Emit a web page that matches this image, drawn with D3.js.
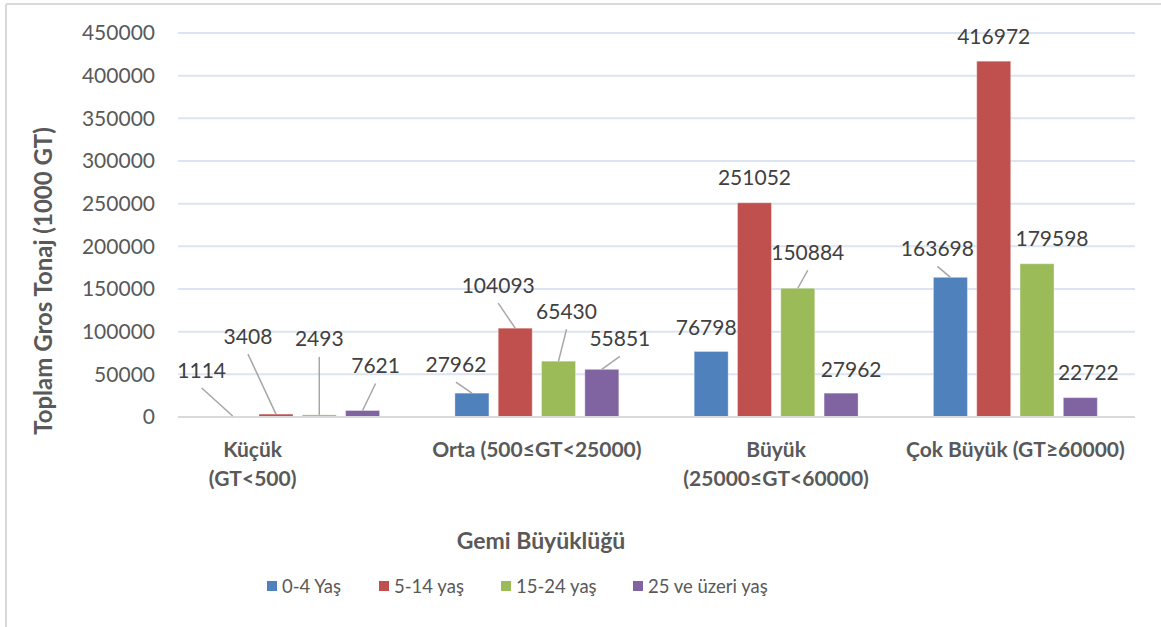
<!DOCTYPE html>
<html>
<head>
<meta charset="utf-8">
<script src="https://cdn.jsdelivr.net/npm/d3@7"></script>
<style>
  body { margin: 0; background: #fff; }
  svg text { font-family: Lato, "Open Sans", sans-serif; }
</style>
</head>
<body>
<script>
// Daten
const categories = ["Küçük (GT<500)", "Orta (500≤GT<25000)", "Büyük (25000≤GT<60000)", "Çok Büyük (GT≥60000)"];
const categoryLines = [["Küçük", "(GT<500)"], ["Orta (500≤GT<25000)"], ["Büyük", "(25000≤GT<60000)"], ["Çok Büyük (GT≥60000)"]];
const series = ["0-4 Yaş", "5-14 yaş", "15-24 yaş", "25 ve üzeri yaş"];
const colors = ["#4f81bd", "#c0504d", "#9bbb59", "#8064a2"];

const age0_4   = [1114, 27962, 76798, 163698];
const age5_14  = [3408, 104093, 251052, 416972];
const age15_24 = [2493, 65430, 150884, 179598];
const age25    = [7621, 55851, 27962, 22722];
const values = [age0_4, age5_14, age15_24, age25];

const yTicks = [0, 50000, 100000, 150000, 200000, 250000, 300000, 350000, 400000, 450000];

// Etiketten-Verschiebung (wie im Original manuell verschoben), [dx, dy, leader]
const labelShift = [
  [[-31, -46, 1], [-16, -29, 1], [-5, -24, 0], [-13, -29, 1]],
  [[-28, -78, 1], [-17, -43, 1], [0, -25, 0], [0, -25, 0]],
  [[0, -76, 1], [8, -50, 1], [10, -36, 1], [15, -25, 0]],
  [[13, -45, 1], [18, -31, 1], [10, -24, 0], [8, -25, 0]]
];

const width = 1161;
const height = 627;
const margin = { top: 33, right: 26, bottom: 210, left: 178 };

const svg = d3.select("body").append("svg")
    .attr("width", width)
    .attr("height", height);

// Rahmen (oben und links)
svg.append("line").attr("x1", 6).attr("x2", width).attr("y1", 4).attr("y2", 4)
    .attr("stroke", "#d9d9d9").attr("stroke-width", 2);
svg.append("line").attr("x1", 6).attr("x2", 6).attr("y1", 4).attr("y2", height)
    .attr("stroke", "#d9d9d9").attr("stroke-width", 2);

const x0 = d3.scaleBand()
    .domain(categories)
    .range([margin.left, width - margin.right]);

const x1 = d3.scaleBand()
    .domain(series)
    .range([0, x0.bandwidth()])
    .paddingInner(0.215)
    .paddingOuter(0.87);

const y = d3.scaleLinear()
    .domain([0, 450000])
    .range([height - margin.bottom, margin.top]);

// Gitternetz
svg.append("g")
    .selectAll("line")
    .data(yTicks.slice(1))
    .join("line")
    .attr("x1", margin.left)
    .attr("x2", width - margin.right)
    .attr("y1", d => y(d))
    .attr("y2", d => y(d))
    .attr("stroke", "#dbe4f0")
    .attr("stroke-width", 2);

// Y-Achse
const yAxis = svg.append("g")
    .attr("transform", `translate(${margin.left - 2},0)`)
    .call(d3.axisLeft(y).tickValues(yTicks).tickFormat(d3.format("d")).tickSize(0).tickPadding(21));
yAxis.select(".domain").remove();
yAxis.selectAll("text")
    .attr("fill", "#595959")
    .attr("font-size", 21);

// Balken
const groups = svg.append("g")
    .selectAll("g")
    .data(series)
    .join("g")
    .attr("fill", (d, i) => colors[i]);

groups.selectAll("rect")
    .data((s, si) => values[si].map((v, ci) => ({ v, ci, si })))
    .join("rect")
    .attr("x", d => x0(categories[d.ci]) + x1(series[d.si]))
    .attr("width", x1.bandwidth())
    .attr("y", d => y(d.v))
    .attr("height", d => y(0) - y(d.v))
    .attr("stroke", "#fff")
    .attr("stroke-opacity", 0.35)
    .attr("stroke-width", 1);

// Nulllinie
svg.append("line")
    .attr("x1", margin.left)
    .attr("x2", width - margin.right)
    .attr("y1", y(0))
    .attr("y2", y(0))
    .attr("stroke", "#d9d9d9")
    .attr("stroke-width", 2);

// Datenbeschriftungen
const labels = [];
series.forEach((s, si) => {
  values[si].forEach((v, ci) => {
    const cx = x0(categories[ci]) + x1(s) + x1.bandwidth() / 2;
    const top = y(v);
    const [dx, dy, leader] = labelShift[si][ci];
    labels.push({ v, cx, top, lx: cx + dx, ly: top + dy, leader });
  });
});

svg.append("g")
    .selectAll("line")
    .data(labels.filter(d => d.leader))
    .join("line")
    .attr("x1", d => d.lx)
    .attr("y1", d => d.ly + 18)
    .attr("x2", d => d.cx)
    .attr("y2", d => d.top)
    .attr("stroke", "#a6a6a6")
    .attr("stroke-width", 1.5);

svg.append("g")
    .selectAll("text")
    .data(labels)
    .join("text")
    .attr("x", d => d.lx)
    .attr("y", d => d.ly)
    .attr("dy", "0.36em")
    .attr("text-anchor", "middle")
    .attr("font-size", 21)
    .attr("fill", "#404040")
    .text(d => d.v);

// Kategorien
const catShift = [-45, 0, 0, 0];
const cat = svg.append("g")
    .selectAll("text")
    .data(categories)
    .join("text")
    .attr("x", (d, i) => x0(d) + x0.bandwidth() / 2 + catShift[i])
    .attr("y", 449)
    .attr("dy", "0.36em")
    .attr("text-anchor", "middle")
    .attr("font-size", 21)
    .attr("font-weight", "bold")
    .attr("fill", "#595959");

cat.selectAll("tspan")
    .data((d, i) => categoryLines[i])
    .join("tspan")
    .attr("x", function() { return this.parentNode.getAttribute("x"); })
    .attr("dy", (d, i) => i === 0 ? "0.36em" : 29)
    .text(d => d);

// Achsentitel
svg.append("text")
    .attr("transform", "translate(43,281) rotate(-90)")
    .attr("dy", "0.36em")
    .attr("text-anchor", "middle")
    .attr("font-size", 24)
    .attr("font-weight", "bold")
    .attr("fill", "#595959")
    .text("Toplam Gros Tonaj (1000 GT)");

svg.append("text")
    .attr("x", 541)
    .attr("y", 541)
    .attr("dy", "0.36em")
    .attr("text-anchor", "middle")
    .attr("font-size", 23)
    .attr("font-weight", "bold")
    .attr("fill", "#595959")
    .text("Gemi Büyüklüğü");

// Legende
const legendX = [267, 379, 501, 633];
const legend = svg.append("g")
    .selectAll("g")
    .data(series)
    .join("g")
    .attr("transform", (d, i) => `translate(${legendX[i]},586)`);

legend.append("rect")
    .attr("x", 0)
    .attr("y", -5)
    .attr("width", 10)
    .attr("height", 10)
    .attr("fill", (d, i) => colors[i]);

legend.append("text")
    .attr("x", 15)
    .attr("dy", "0.36em")
    .attr("font-size", 18.5)
    .attr("fill", "#595959")
    .text(d => d);
</script>
</body>
</html>
